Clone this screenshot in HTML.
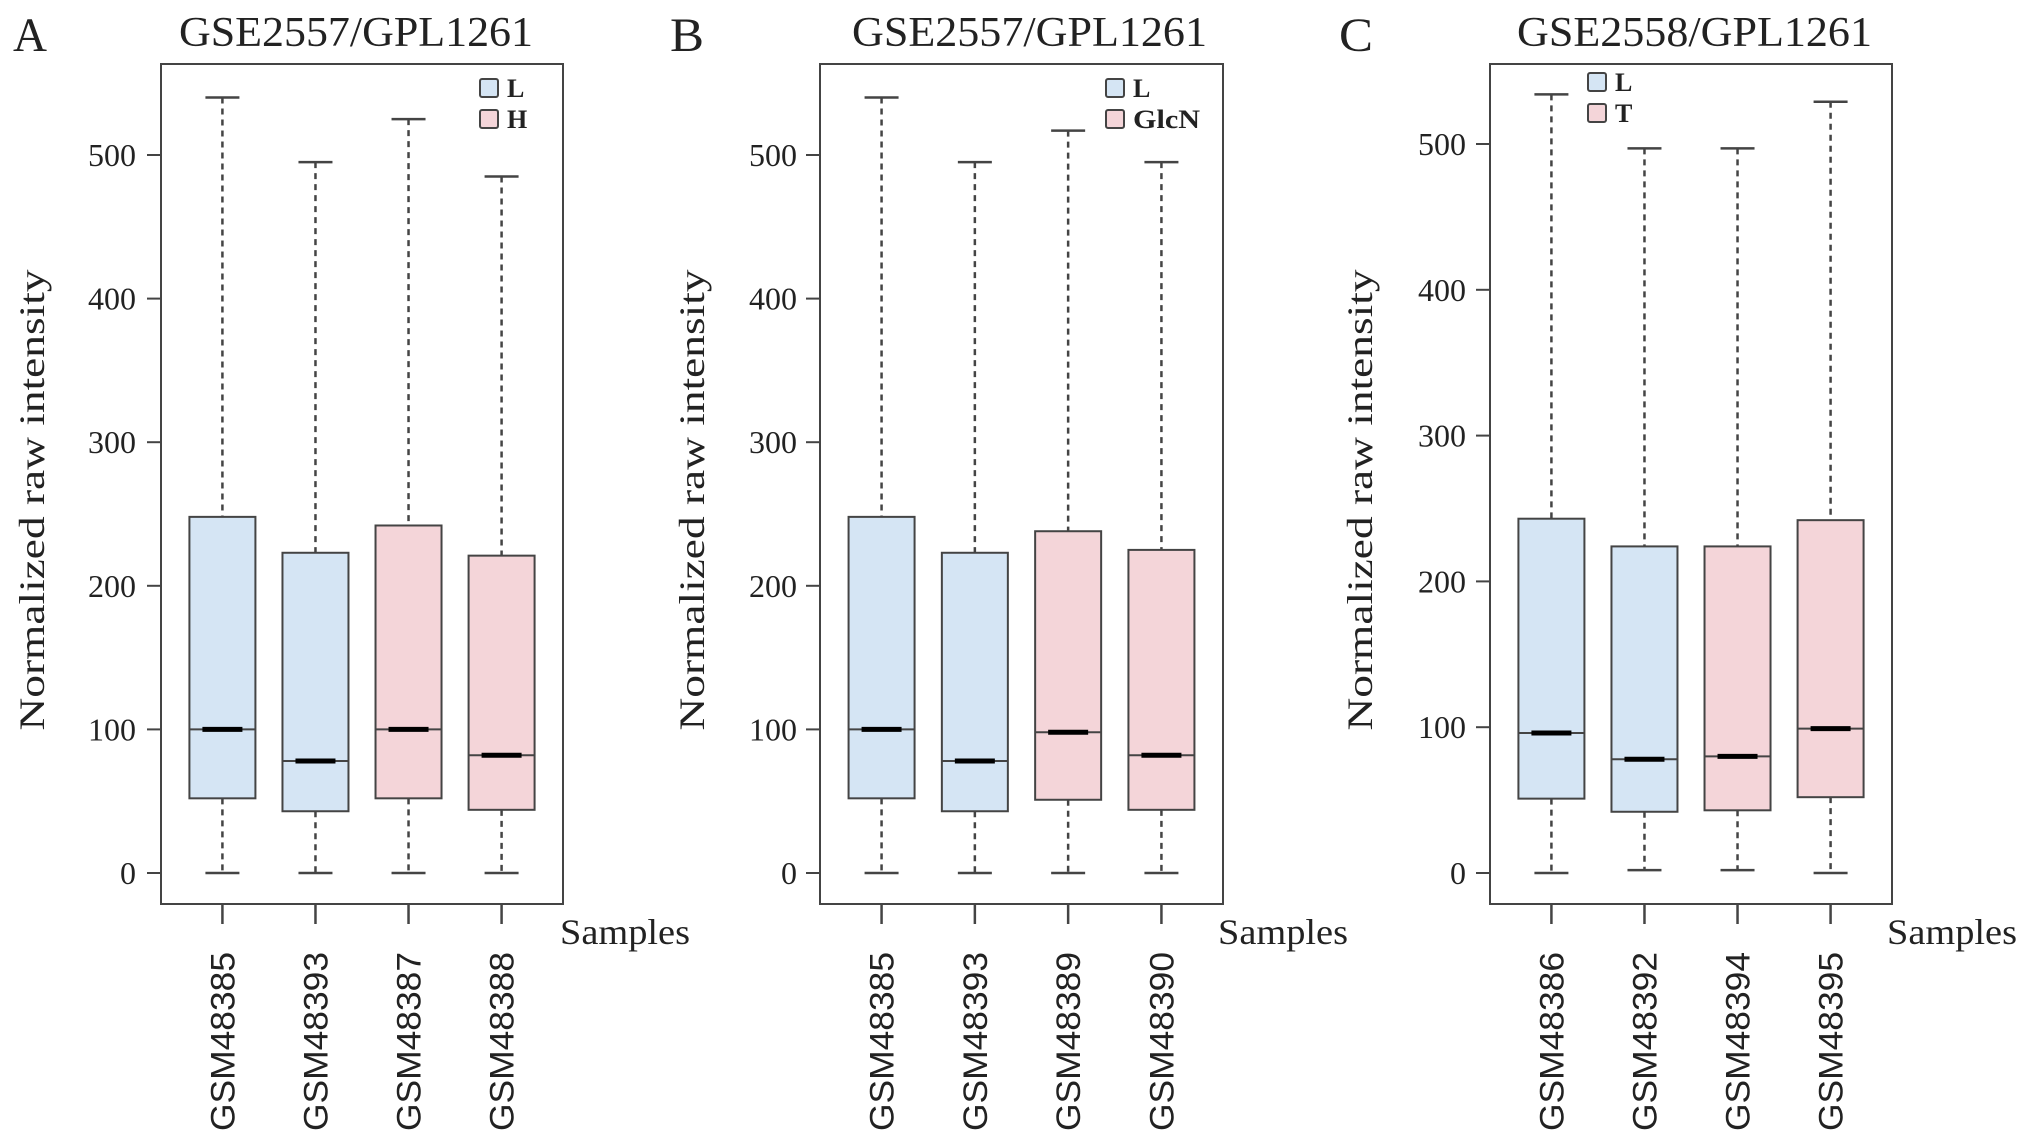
<!DOCTYPE html>
<html><head><meta charset="utf-8"><style>
html,body{margin:0;padding:0;background:#fff;}
svg{display:block;}
text{font-family:"Liberation Serif",serif;fill:#222;}
.sl{font-family:"Liberation Sans",sans-serif;}
</style></head><body>
<svg id="fig" width="2031" height="1148" viewBox="0 0 2031 1148" xmlns="http://www.w3.org/2000/svg"></svg>
<script>
// ---- data ----
const samplesA = ["GSM48385","GSM48393","GSM48387","GSM48388"];
const groupsA = ["L","L","H","H"];
const maxA = [540,495,525,485];
const q3A = [248,223,242,221];
const medA = [100,78,100,82];
const q1A = [52,43,52,44];
const minA = [0,0,0,0];

const samplesB = ["GSM48385","GSM48393","GSM48389","GSM48390"];
const groupsB = ["L","L","GlcN","GlcN"];
const maxB = [540,495,517,495];
const q3B = [248,223,238,225];
const medB = [100,78,98,82];
const q1B = [52,43,51,44];
const minB = [0,0,0,0];

const samplesC = ["GSM48386","GSM48392","GSM48394","GSM48395"];
const groupsC = ["L","L","T","T"];
const maxC = [534,497,497,529];
const q3C = [243,224,224,242];
const medC = [96,78,80,99];
const q1C = [51,42,43,52];
const minC = [0,2,2,0];

const yTicks = [0,100,200,300,400,500];

const NS="http://www.w3.org/2000/svg";
const svg=document.getElementById('fig');
function mk(tag,attrs,parent){const e=document.createElementNS(NS,tag);for(const k in attrs)e.setAttribute(k,attrs[k]);(parent||svg).appendChild(e);return e;}

const panels=[
 {id:'a',letter:'A',title:'GSE2557/GPL1261',samples:samplesA,groups:groupsA,mx:maxA,q3:q3A,md:medA,q1:q1A,mn:minA,
  L:161,R:563,T:64,B:904,y0:873,y500:155,legX:480,legY:79,legNames:['L','H'],titleX:179,titleW:354,letterX:13,
  tickLabR:136,ylabX:44,samplesX:560},
 {id:'b',letter:'B',title:'GSE2557/GPL1261',samples:samplesB,groups:groupsB,mx:maxB,q3:q3B,md:medB,q1:q1B,mn:minB,
  L:820,R:1223,T:64,B:904,y0:873,y500:155,legX:1106,legY:79,legNames:['L','GlcN'],titleX:852,titleW:355,letterX:670,
  tickLabR:797,ylabX:704,samplesX:1218},
 {id:'c',letter:'C',title:'GSE2558/GPL1261',samples:samplesC,groups:groupsC,mx:maxC,q3:q3C,md:medC,q1:q1C,mn:minC,
  L:1490,R:1892,T:64,B:904,y0:873,y500:144,legX:1588,legY:73,legNames:['L','T'],titleX:1517,titleW:355,letterX:1339,
  tickLabR:1466,ylabX:1372,samplesX:1887}
];
const fillFor=(g)=> g==='L' ? '#d5e5f4' : '#f4d5d9';

panels.forEach(p=>{
  const g=mk('g',{});
  
  
  const xs=v=>p.L+(v-0.34)/(4.32)*(p.R-p.L);
  const ys=v=>p.y0+(p.y500-p.y0)*v/500;

  const lt=mk('text',{x:p.letterX,y:51,'font-size':48,textLength:34,lengthAdjust:'spacingAndGlyphs'},g);
  lt.textContent=p.letter;
  
  

  const tt=mk('text',{x:p.titleX,y:46,'font-size':42,textLength:p.titleW,lengthAdjust:'spacingAndGlyphs'},g);
  tt.textContent=p.title;
  
  

  const fr=mk('rect',{x:p.L,y:p.T,width:p.R-p.L,height:p.B-p.T,fill:'none',stroke:'#444','stroke-width':2},g);
  
  

  // y axis
  mk('line',{x1:p.L,x2:p.L,y1:ys(0),y2:ys(500),stroke:'#444','stroke-width':2},g);
  yTicks.forEach(t=>{
    mk('line',{x1:p.L-14,x2:p.L,y1:ys(t),y2:ys(t),stroke:'#444','stroke-width':2},g);
    const lab=mk('text',{x:p.tickLabR,y:ys(t)+11,'font-size':32,'text-anchor':'end'},g);
    lab.textContent=String(t);
    
    
  });
  const yl=mk('text',{x:0,y:0,'font-size':36,'text-anchor':'middle',textLength:461,lengthAdjust:'spacingAndGlyphs',
    transform:`translate(${p.ylabX},500) rotate(-90)`},g);
  yl.textContent='Normalized raw intensity';
  
  

  // x axis
  mk('line',{x1:xs(1),x2:xs(4),y1:p.B,y2:p.B,stroke:'#444','stroke-width':2},g);
  const sx=mk('text',{x:p.samplesX,y:944,'font-size':36,textLength:130,lengthAdjust:'spacingAndGlyphs'},g);
  sx.textContent='Samples';
  
  

  p.samples.forEach((s,i)=>{
    const cx=xs(i+1), hw=33, cw=17;
    const bg=mk('g',{},g);
    
    
    mk('line',{x1:cx,x2:cx,y1:ys(p.mx[i]),y2:ys(p.q3[i]),stroke:'#444','stroke-width':2.5,'stroke-dasharray':'6 5'},bg);
    mk('line',{x1:cx,x2:cx,y1:ys(p.q1[i]),y2:ys(p.mn[i]),stroke:'#444','stroke-width':2.5,'stroke-dasharray':'6 5'},bg);
    mk('line',{x1:cx-cw,x2:cx+cw,y1:ys(p.mx[i]),y2:ys(p.mx[i]),stroke:'#444','stroke-width':2.5},bg);
    mk('line',{x1:cx-cw,x2:cx+cw,y1:ys(p.mn[i]),y2:ys(p.mn[i]),stroke:'#444','stroke-width':2.5},bg);
    mk('rect',{x:cx-hw,y:ys(p.q3[i]),width:hw*2,height:ys(p.q1[i])-ys(p.q3[i]),fill:fillFor(p.groups[i]),stroke:'#444','stroke-width':2},bg);
    mk('line',{x1:cx-hw,x2:cx+hw,y1:ys(p.md[i]),y2:ys(p.md[i]),stroke:'#444','stroke-width':2},bg);
    mk('line',{x1:cx-20,x2:cx+20,y1:ys(p.md[i]),y2:ys(p.md[i]),stroke:'#000','stroke-width':5},bg);
    mk('line',{x1:cx,x2:cx,y1:p.B,y2:p.B+20,stroke:'#444','stroke-width':2.5},g);
    const sl=mk('text',{x:0,y:0,'font-size':34,'text-anchor':'end',textLength:179,lengthAdjust:'spacingAndGlyphs',
      class:'sl',transform:`translate(${cx+12},952) rotate(-90)`},g);
    sl.textContent=s;
    
    
  });

  // legend
  p.legNames.forEach((n,k)=>{
    const yy=p.legY+k*31;
    const lg=mk('g',{},g);
    
    
    mk('rect',{x:p.legX,y:yy,width:18,height:18,rx:2,fill:fillFor(n),stroke:'#444','stroke-width':2},lg);
    const lt2=mk('text',{x:p.legX+27,y:yy+18,'font-size':26,'font-weight':'bold'},lg);
    lt2.textContent=n;
    if(n==='GlcN'){lt2.setAttribute('textLength',67);lt2.setAttribute('lengthAdjust','spacingAndGlyphs');}
  });
});
</script>
</body></html>
